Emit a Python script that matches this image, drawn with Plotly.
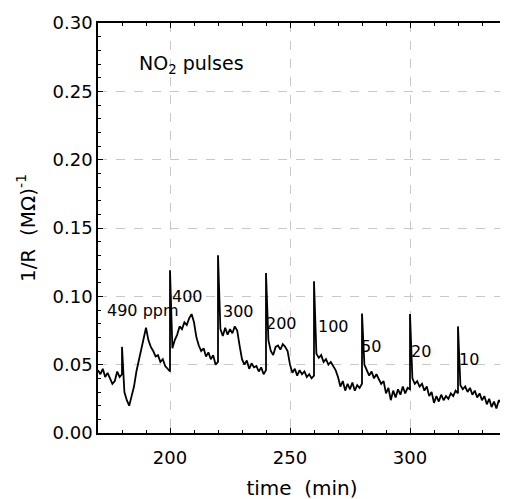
import plotly.graph_objects as go

# sampled once per minute, 170..340 min
t_start = 170
conductance = [
    0.046, 0.043, 0.047, 0.041, 0.044, 0.040, 0.036, 0.038, 0.045, 0.041,   # 170-179
    0.043, 0.030, 0.024, 0.020, 0.027, 0.034, 0.045, 0.053, 0.063, 0.070,   # 180-189
    0.077, 0.068, 0.063, 0.060, 0.056, 0.057, 0.052, 0.054, 0.049, 0.047,   # 190-199
    0.045, 0.062, 0.068, 0.072, 0.078, 0.076, 0.081, 0.079, 0.084, 0.087,   # 200-209
    0.081, 0.070, 0.064, 0.060, 0.062, 0.056, 0.059, 0.054, 0.057, 0.050,   # 210-219
    0.052, 0.076, 0.071, 0.077, 0.072, 0.076, 0.073, 0.078, 0.075, 0.064,   # 220-229
    0.054, 0.050, 0.053, 0.047, 0.051, 0.048, 0.049, 0.045, 0.048, 0.043,   # 230-239
    0.046, 0.068, 0.060, 0.057, 0.063, 0.064, 0.061, 0.065, 0.063, 0.060,   # 240-249
    0.050, 0.044, 0.047, 0.042, 0.046, 0.043, 0.045, 0.041, 0.043, 0.040,   # 250-259
    0.042, 0.058, 0.055, 0.057, 0.052, 0.054, 0.050, 0.052, 0.049, 0.046,   # 260-269
    0.041, 0.034, 0.038, 0.031, 0.036, 0.032, 0.037, 0.031, 0.035, 0.033,   # 270-279
    0.036, 0.050, 0.046, 0.042, 0.045, 0.040, 0.043, 0.040, 0.036, 0.038,   # 280-289
    0.029, 0.033, 0.024, 0.031, 0.026, 0.032, 0.028, 0.034, 0.029, 0.033,   # 290-299
    0.032, 0.040, 0.036, 0.038, 0.034, 0.036, 0.031, 0.034, 0.027, 0.030,   # 300-309
    0.022, 0.027, 0.023, 0.028, 0.024, 0.027, 0.025, 0.029, 0.027, 0.031,   # 310-319
    0.029, 0.035, 0.032, 0.034, 0.030, 0.033, 0.028, 0.031, 0.026, 0.029,   # 320-329
    0.024, 0.027, 0.021, 0.025, 0.019, 0.023, 0.018, 0.024, 0.022, 0.026,   # 330-339
    0.024,                                                                  # 340
]

# NO2 pulse onsets and the height of the transient spike
pulse_times = [180, 200, 220, 240, 260, 280, 300, 320]
pulse_tops = [0.063, 0.119, 0.130, 0.117, 0.111, 0.0875, 0.087, 0.078]

# concentration labels
label_text = ["490 ppm", "400", "300", "200", "100", "50", "20", "10"]
label_x = [188.7, 207.3, 228.5, 246.3, 268.3, 283.7, 304.7, 324.6]
label_y = [0.090, 0.100, 0.089, 0.080, 0.078, 0.063, 0.060, 0.054]

xs, ys = [], []
for i, v in enumerate(conductance):
    t = t_start + i
    xs.append(t)
    ys.append(v)
    if t in pulse_times:
        xs.append(t)
        ys.append(pulse_tops[pulse_times.index(t)])

fig = go.Figure()
fig.add_trace(go.Scatter(x=xs, y=ys, mode="lines",
                         line=dict(color="black", width=1.8), showlegend=False))

for txt, lx, ly in zip(label_text, label_x, label_y):
    fig.add_annotation(x=lx, y=ly, text=txt, showarrow=False,
                       font=dict(size=16, color="black"))

fig.add_annotation(x=209, y=0.270, text="NO<sub>2</sub> pulses", showarrow=False,
                   font=dict(size=19, color="black"))

axis_common = dict(
    showline=True, linecolor="black", linewidth=1.5, mirror="ticks",
    ticks="inside", ticklen=5, tickwidth=1, tickcolor="black",
    showgrid=True, gridcolor="#c8c8c8", griddash="dash", gridwidth=1,
    zeroline=False,
    tickfont=dict(size=18, color="black"),
)

fig.update_xaxes(range=[170, 340], tickvals=[200, 250, 300], ticklabelstandoff=8,
                 automargin="bottom",
                 minor=dict(dtick=10, ticks="inside", ticklen=3, tickcolor="black", showgrid=False),
                 title=dict(text="time  (min)", font=dict(size=20, color="black"), standoff=14),
                 **axis_common)
fig.update_yaxes(range=[0, 0.30], dtick=0.05, tickformat=".2f",
                 automargin="left",
                 minor=dict(dtick=0.01, ticks="inside", ticklen=3, tickcolor="black", showgrid=False),
                 title=dict(text="1/R  (MΩ)<sup>-1</sup>", font=dict(size=20, color="black"), standoff=12),
                 **axis_common)

# the page puts the figure 8px in from the top-left corner
fig.update_layout(
    width=508, height=499,
    margin=dict(l=90, r=10, t=15, b=74),
    paper_bgcolor="white", plot_bgcolor="white",
    font=dict(family="DejaVu Sans", color="black"),
)

fig.write_html("out.html")
